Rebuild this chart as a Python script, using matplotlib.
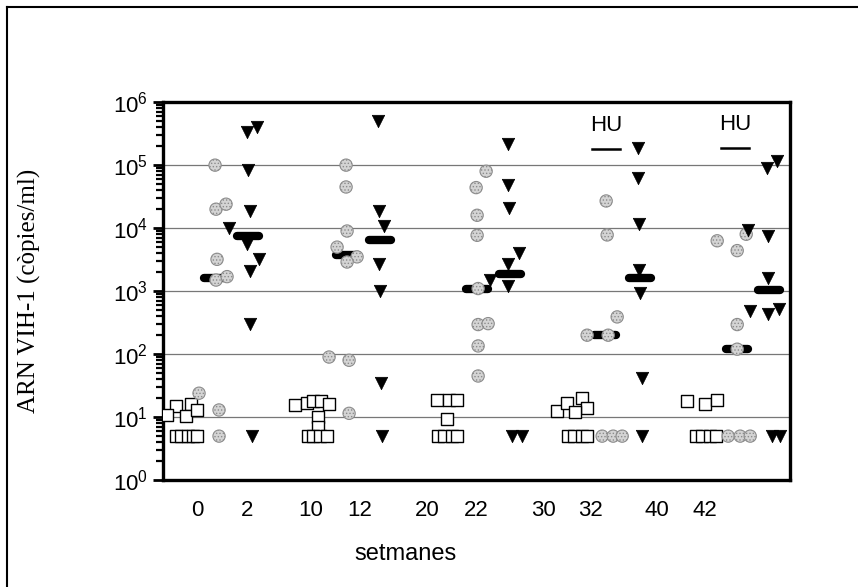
import matplotlib
matplotlib.use('agg')
import matplotlib.pyplot as plt
from matplotlib.lines import Line2D

# eixos: setmanes a l'eix x (posicions de columna), ARN VIH-1 a l'eix y (log)
week_labels = ['0', '2', '10', '12', '20', '22', '30', '32', '40', '42']
week_pos = [3.4, 8.4, 14.8, 19.7, 26.4, 31.3, 38.0, 42.7, 49.4, 54.2]

# quadrats buits
sq_x = [1.3, 2.8, 0.4, 2.3, 3.4, 1.3, 1.8, 2.5, 3.0, 3.4,
        13.2, 14.4, 15.0, 15.8, 16.6, 15.5, 15.5, 14.5, 15.0, 15.7, 16.4,
        27.4, 28.6, 29.4, 28.4, 27.5, 28.1, 28.9, 29.4,
        39.4, 40.4, 41.9, 42.4, 41.2, 40.5, 41.1, 41.9, 42.4,
        52.4, 54.2, 55.4, 53.3, 53.9, 54.7, 55.3]
sq_y = [15, 16, 10.7, 10.4, 13, 5, 5, 5, 5, 5,
        15.5, 17, 18, 18, 16, 10.2, 7.1, 5, 5, 5, 5,
        19, 19, 19, 9.3, 5, 5, 5, 5,
        12.5, 17, 20, 14, 12, 5, 5, 5, 5,
        18, 16, 19, 5, 5, 5, 5]

# cercles grisos
ci_x = [5.2, 5.3, 6.3, 5.4, 5.3, 6.4, 3.6, 5.6, 5.6,
        18.3, 18.3, 18.4, 17.4, 19.4, 18.4, 16.6, 18.6, 18.6,
        32.3, 31.3, 31.4, 31.4, 31.5, 31.5, 32.5, 31.5, 31.5,
        44.3, 44.4, 45.4, 42.4, 44.5, 43.9, 45.0, 45.9,
        55.4, 58.3, 57.4, 57.4, 57.4, 56.5, 57.7, 58.7]
ci_y = [1e5, 2e4, 2.4e4, 3.2e3, 1.5e3, 1.7e3, 24, 13, 5,
        1e5, 4.5e4, 9e3, 5e3, 3.5e3, 2.9e3, 90, 80, 11.5,
        8e4, 4.4e4, 1.6e4, 7.7e3, 1.1e3, 295, 305, 135, 45,
        2.7e4, 7.8e3, 390, 200, 200, 5, 5, 5,
        6.3e3, 8e3, 4.4e3, 295, 120, 5, 5, 5]

# triangles negres
tr_x = [8.4, 9.4, 8.5, 8.7, 6.6, 8.4, 9.6, 8.7, 8.7, 8.9,
        21.5, 21.6, 22.1, 21.6, 21.7, 21.8, 21.9,
        34.5, 34.5, 34.6, 35.6, 34.5, 32.7, 34.5, 34.9, 35.9,
        47.5, 47.5, 47.6, 47.6, 47.7, 47.9, 47.9,
        60.4, 61.4, 58.5, 60.5, 60.5, 58.7, 60.5, 61.6, 60.9, 61.7]
tr_y = [3.3e5, 4e5, 8.3e4, 1.9e4, 1e4, 5.6e3, 3.2e3, 2.1e3, 300, 5,
        5e5, 1.9e4, 1.1e4, 2.7e3, 1e3, 35, 5,
        2.2e5, 4.8e4, 2.1e4, 4e3, 2.7e3, 1.5e3, 1.2e3, 5, 5,
        1.9e5, 6.2e4, 1.15e4, 2.2e3, 920, 42, 5,
        9e4, 1.17e5, 9.5e3, 7.4e3, 1.6e3, 480, 435, 530, 5, 5]

# medianes
med_x = [5.2, 8.5, 18.4, 21.7, 31.4, 34.7, 44.2, 47.7, 57.4, 60.6]
med_y = [1.6e3, 7.4e3, 3.7e3, 6.5e3, 1.1e3, 1.9e3, 200, 1.6e3, 120, 1.05e3]

# tractament amb hidroxiurea
hu_x = [44.3, 57.2]
hu_y = [4.2e5, 4.4e5]
hu_bar_y = [1.8e5, 1.9e5]

plt.rcParams['hatch.linewidth'] = 0.6
plt.rcParams['mathtext.default'] = 'regular'

fig = plt.figure(figsize=(8.58, 5.87), dpi=100)
ax = fig.add_axes([0.19, 0.182, 0.731, 0.644])

ax.set_yscale('log')
ax.set_ylim(1, 1e6)
ax.set_xlim(0, 62.7)

for v in [1e1, 1e2, 1e3, 1e4, 1e5]:
    ax.axhline(v, color='#777777', lw=0.9, zorder=1)

for x, y in zip(med_x, med_y):
    ax.plot([x - 1.1, x + 1.1], [y, y], color='black', lw=6,
            solid_capstyle='round', zorder=2)

ax.scatter(sq_x, sq_y, marker='s', s=85, facecolor='white',
           edgecolor='black', linewidth=1.0, zorder=3)
ax.scatter(ci_x, ci_y, marker='o', s=78, facecolor='#d4d4d4',
           edgecolor='#8c8c8c', linewidth=0.8, hatch='.....', zorder=4)
ax.scatter(tr_x, tr_y, marker='v', s=80, facecolor='black',
           edgecolor='black', linewidth=0.5, zorder=5)

for x, y, yb in zip(hu_x, hu_y, hu_bar_y):
    ax.text(x, y, 'HU', ha='center', va='center', fontsize=16,
            family='Liberation Sans')
    ax.plot([x - 1.4, x + 1.4], [yb, yb], color='black', lw=1.8)

ax.set_xticks(week_pos)
ax.set_xticklabels(week_labels, fontsize=16, family='Liberation Sans')
ax.tick_params(axis='x', length=0, pad=14)
ax.tick_params(axis='y', which='major', length=7, width=2, labelsize=16, pad=4)
ax.tick_params(axis='y', which='minor', length=5, width=1.6)
for lab in ax.get_yticklabels():
    lab.set_family('Liberation Sans')

for side in ['left', 'right', 'top', 'bottom']:
    ax.spines[side].set_linewidth(2.4)

ax.set_ylabel('ARN VIH-1 (còpies/ml)', fontsize=18, family='Liberation Serif')
ax.yaxis.set_label_coords(-0.195, 0.5)
ax.set_xlabel('setmanes', fontsize=17, family='Liberation Sans')
ax.xaxis.set_label_coords(0.386, -0.165)

# marc exterior
fig.add_artist(Line2D([7 / 858, 7 / 858], [0, 1 - 7 / 587], color='black', lw=1.5))
fig.add_artist(Line2D([7 / 858, 1], [1 - 7 / 587, 1 - 7 / 587], color='black', lw=1.5))

fig.savefig('out.png')
plt.close()
